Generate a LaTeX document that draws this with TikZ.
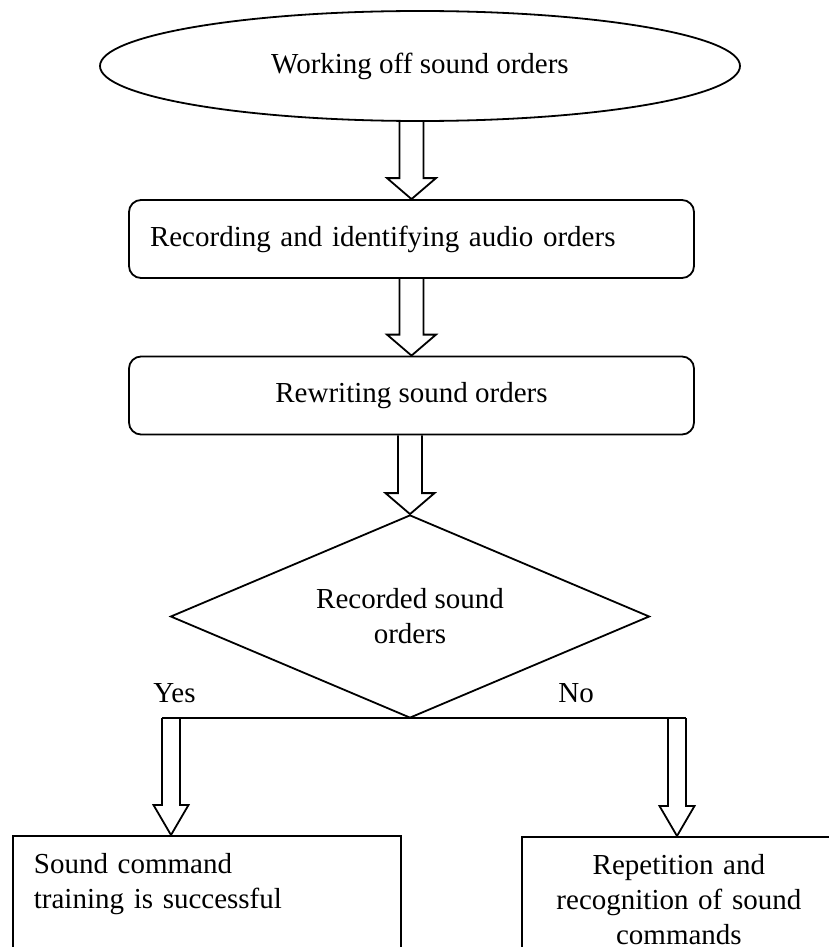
\documentclass[tikz,border=0pt]{standalone}
\usepackage{fontspec}
\setmainfont{Liberation Serif}
\usetikzlibrary{calc,shapes.geometric}
\tikzset{
  flow/.style={
    line width=0.9pt,
    draw
  },
  startnode/.style={
    flow,
    shape=ellipse,
    inner sep=0pt,
    minimum width=320pt,
    minimum height=55pt
  },
  stepbox/.style={
    flow,
    shape=rectangle,
    rounded corners=6pt,
    minimum width=282.5pt,
    minimum height=39pt
  },
  decision/.style={
    flow,
    shape=diamond,
    inner sep=0pt,
    aspect=2.36,
    minimum width=239.5pt,
    minimum height=101.5pt,
    align=center
  },
  endbox/.style={
    flow,
    shape=rectangle,
    anchor=north west,
    inner xsep=10.5pt,
    inner ysep=8.5pt,
    text depth=80pt
  },
  hollow/.style={
    line width=0.9pt,
    line join=miter
  },
  branch/.style={
    anchor=base west,
    inner sep=0pt
  }
}
\newcommand{\hollowarrow}[5]{%
  \draw[hollow] ($(#1)+(-#3,0)$) -- ($(#2)+(-#3,-#5)$) -- ($(#2)+(-#4,-#5)$) -- (#2)
    -- ($(#2)+(#4,-#5)$) -- ($(#2)+(#3,-#5)$) -- ($(#1)+(#3,0)$);
}
\begin{document}
\begin{tikzpicture}[x=0.5pt,y=-0.5pt,font=\fontsize{14.5}{17.5}\selectfont]
\useasboundingbox (0,0) rectangle (829,947);
\clip (0,0) rectangle (829,947);
\node[startnode] (start) at (420,66) {Working off sound orders};
\node[stepbox, text width=261.5pt, inner xsep=10.5pt, align=left] (rec) at (411.5,239) {Recording and identifying audio orders};
\node[stepbox] (rew) at (411.5,395.5) {Rewriting sound orders};
\node[decision] (chk) at (410,616.5) {Recorded sound\\orders};
\foreach \a/\b in {start/rec,rec/rew,rew/chk}{
  \coordinate (\a-out) at (\b.north |- \a.south);
  \hollowarrow{\a-out}{\b.north}{12}{24.5}{21}
}
\node[endbox, text width=173pt, align=left] (yes) at (12,835) {Sound command\\training is successful};
\node[endbox, text width=136pt, align=center] (no) at (521,836) {Repetition and\\recognition of sound\\commands};
\node[branch] (ylab) at (153,702) {Yes};
\node[branch] (nlab) at (558,702) {No};
\coordinate (yes-in) at (171,718);
\coordinate (no-in) at (677,718);
\coordinate (yes-tip) at (yes-in |- yes.north);
\coordinate (no-tip) at (no-in |- no.north);
\draw[hollow] ($(yes-in)+(-9,0)$) -- ($(no-in)+(9,0)$);
\hollowarrow{yes-in}{yes-tip}{9}{17.5}{30}
\hollowarrow{no-in}{no-tip}{9}{17.5}{30}
\end{tikzpicture}
\end{document}
